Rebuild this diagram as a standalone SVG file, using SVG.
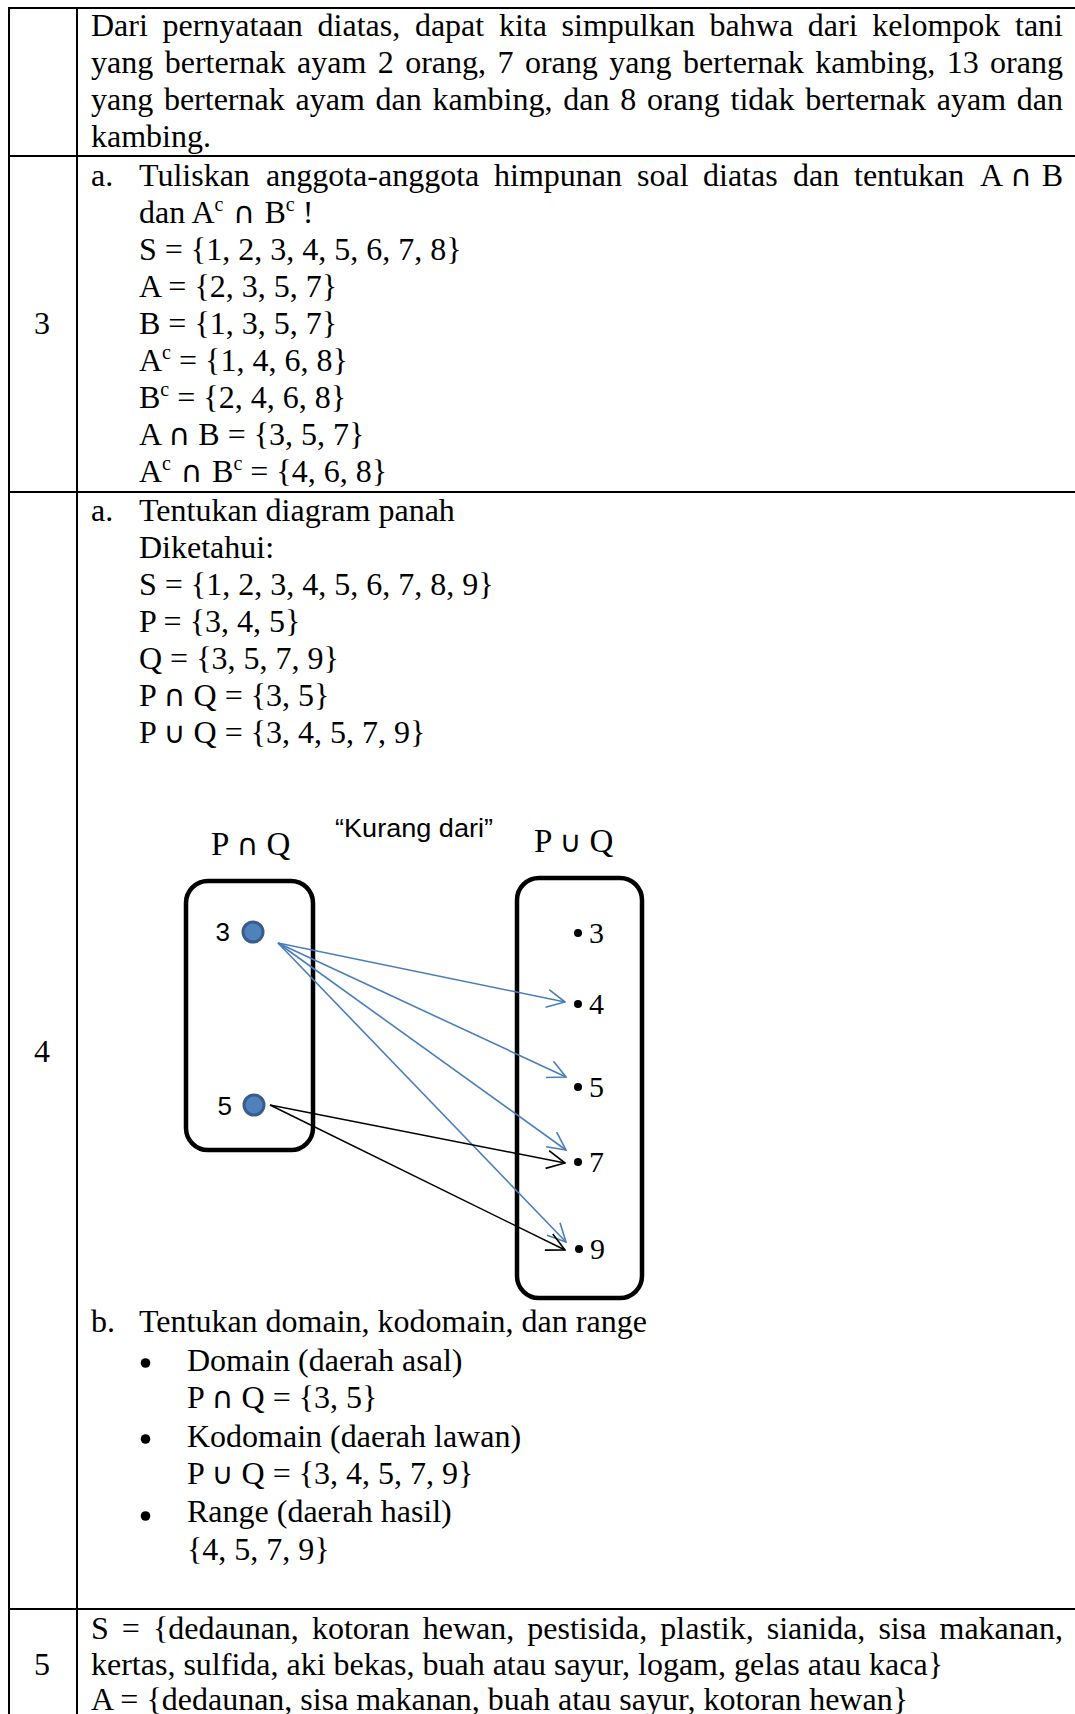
<svg xmlns="http://www.w3.org/2000/svg" width="1075" height="1714" viewBox="0 0 1075 1714">
<style>
.t{font-family:"Liberation Serif","Times New Roman",serif;font-size:32px;fill:#000}
.op{font-family:"DejaVu Sans",sans-serif;font-size:30px}
.sup{font-size:20px}
.num{font-family:"Liberation Serif","Times New Roman",serif;font-size:32px;text-anchor:middle}
.lbl{font-family:"Liberation Serif","Times New Roman",serif;font-size:33px}
.cal{font-family:"Liberation Sans",Arial,sans-serif;font-size:26px}
.rd{font-family:"Liberation Serif","Times New Roman",serif;font-size:30px}
.grid{stroke:#000;stroke-width:2;fill:none}
.box{fill:none;stroke:#000;stroke-width:4.5}
.pt{fill:#4f81bd;stroke:#385d8a;stroke-width:3}
.blue{stroke:#4a7ebb;stroke-width:1.6;fill:none;marker-end:url(#ab)}
.blk{stroke:#000;stroke-width:1.5;fill:none;marker-end:url(#ak)}
</style>
<defs>
<marker id="ab" viewBox="0 0 20 20" refX="19" refY="10" markerWidth="20" markerHeight="20" orient="auto" markerUnits="userSpaceOnUse"><path d="M1,1 L19,10 L1,19" fill="none" stroke="#4a7ebb" stroke-width="1.6"/></marker>
<marker id="ak" viewBox="0 0 20 20" refX="19" refY="10" markerWidth="20" markerHeight="20" orient="auto" markerUnits="userSpaceOnUse"><path d="M1,1 L19,10 L1,19" fill="none" stroke="#000" stroke-width="1.6"/></marker>
</defs>
<rect width="1075" height="1714" fill="#fff"/>
<g id="table">
<line class="grid" x1="8" y1="8" x2="1075" y2="8"/>
<line class="grid" x1="9" y1="7" x2="9" y2="1714"/>
<line class="grid" x1="77" y1="7" x2="77" y2="1714"/>
<line class="grid" x1="8" y1="156" x2="1075" y2="156"/>
<line class="grid" x1="8" y1="492" x2="1075" y2="492"/>
<line class="grid" x1="8" y1="1609" x2="1075" y2="1609"/>
</g>
<g id="row-numbers">
<text class="num" x="42" y="334">3</text>
<text class="num" x="42" y="1062">4</text>
<text class="num" x="42" y="1675">5</text>
</g>
<g id="row1">
<text class="t" y="36"><tspan x="91">Dari</tspan><tspan x="162.5">pernyataan</tspan><tspan x="317.6">diatas,</tspan><tspan x="414.9">dapat</tspan><tspan x="498.9">kita</tspan><tspan x="561.6">simpulkan</tspan><tspan x="709.6">bahwa</tspan><tspan x="807.8">dari</tspan><tspan x="872.3">kelompok</tspan><tspan x="1015">tani</tspan></text>
<text class="t" y="73"><tspan x="91">yang</tspan><tspan x="164.7">berternak</tspan><tspan x="297">ayam</tspan><tspan x="377.7">2</tspan><tspan x="405.2">orang,</tspan><tspan x="497.5">7</tspan><tspan x="524.9">orang</tspan><tspan x="609.3">yang</tspan><tspan x="682.9">berternak</tspan><tspan x="815.2">kambing,</tspan><tspan x="946.7">13</tspan><tspan x="990.1">orang</tspan></text>
<text class="t" y="110"><tspan x="91">yang</tspan><tspan x="163.9">berternak</tspan><tspan x="295.5">ayam</tspan><tspan x="375.5">dan</tspan><tspan x="432.5">kambing,</tspan><tspan x="563.2">dan</tspan><tspan x="620.2">8</tspan><tspan x="646.9">orang</tspan><tspan x="730.5">tidak</tspan><tspan x="805.2">berternak</tspan><tspan x="936.8">ayam</tspan><tspan x="1016.8">dan</tspan></text>
<text class="t" x="91" y="147">kambing.</text>
</g>
<g id="row3">
<text class="t" x="91" y="186">a.</text>
<text class="t" y="186"><tspan x="139">Tuliskan</tspan><tspan x="266">anggota-anggota</tspan><tspan x="494">himpunan</tspan><tspan x="637">soal</tspan><tspan x="703">diatas</tspan><tspan x="793">dan</tspan><tspan x="854">tentukan</tspan><tspan x="980">A</tspan><tspan class="op" x="1010">∩</tspan><tspan x="1041.7">B</tspan></text>
<text class="t" y="223"><tspan x="139">dan A</tspan><tspan class="sup" dy="-12">c</tspan><tspan class="op" dy="12"> ∩ </tspan><tspan>B</tspan><tspan class="sup" dy="-12">c</tspan><tspan dy="12"> !</tspan></text>
<text class="t" x="139" y="260">S = {1, 2, 3, 4, 5, 6, 7, 8}</text>
<text class="t" x="139" y="297">A = {2, 3, 5, 7}</text>
<text class="t" x="139" y="334">B = {1, 3, 5, 7}</text>
<text class="t" y="371"><tspan x="139">A</tspan><tspan class="sup" dy="-12">c</tspan><tspan dy="12"> = {1, 4, 6, 8}</tspan></text>
<text class="t" y="408"><tspan x="139">B</tspan><tspan class="sup" dy="-12">c</tspan><tspan dy="12"> = {2, 4, 6, 8}</tspan></text>
<text class="t" y="445"><tspan x="139">A </tspan><tspan class="op">∩</tspan><tspan> B = {3, 5, 7}</tspan></text>
<text class="t" y="482"><tspan x="139">A</tspan><tspan class="sup" dy="-12">c</tspan><tspan class="op" dy="12"> ∩ </tspan><tspan>B</tspan><tspan class="sup" dy="-12">c</tspan><tspan dy="12"> = {4, 6, 8}</tspan></text>
</g>
<g id="row4a">
<text class="t" x="91" y="521">a.</text>
<text class="t" x="139" y="521">Tentukan diagram panah</text>
<text class="t" x="139" y="558">Diketahui:</text>
<text class="t" x="139" y="595">S = {1, 2, 3, 4, 5, 6, 7, 8, 9}</text>
<text class="t" x="139" y="632">P = {3, 4, 5}</text>
<text class="t" x="139" y="669">Q = {3, 5, 7, 9}</text>
<text class="t" y="706"><tspan x="139">P </tspan><tspan class="op">∩</tspan><tspan> Q = {3, 5}</tspan></text>
<text class="t" y="743"><tspan x="139">P </tspan><tspan class="op">∪</tspan><tspan> Q = {3, 4, 5, 7, 9}</tspan></text>
</g>
<g id="diagram-labels">
<text class="lbl" x="211" y="855">P <tspan class="op" font-size="32px">∩</tspan> Q</text>
<text class="cal" x="335" y="837" textLength="158" lengthAdjust="spacingAndGlyphs">“Kurang dari”</text>
<text class="lbl" x="534" y="852">P <tspan class="op" font-size="32px">∪</tspan> Q</text>
</g>
<g id="node-domain">
<rect class="box" x="186" y="881" width="127" height="269" rx="22"/>
<circle class="pt" cx="253" cy="932" r="10"/>
<text class="cal" x="230" y="941" text-anchor="end">3</text>
<circle class="pt" cx="254" cy="1105" r="10"/>
<text class="cal" x="232" y="1115" text-anchor="end">5</text>
</g>
<g id="node-codomain">
<rect class="box" x="517" y="878" width="125" height="420" rx="22"/>
<circle cx="578" cy="933" r="4"/><text class="rd" x="589" y="943">3</text>
<circle cx="578" cy="1004" r="4"/><text class="rd" x="589" y="1014">4</text>
<circle cx="578" cy="1087" r="4"/><text class="rd" x="589" y="1097">5</text>
<circle cx="578" cy="1162" r="4"/><text class="rd" x="589" y="1172">7</text>
<circle cx="579" cy="1249" r="4"/><text class="rd" x="590" y="1259">9</text>
</g>
<g id="connectors">
<line class="blue" x1="278" y1="943" x2="565" y2="1002"/>
<line class="blue" x1="278" y1="943" x2="566" y2="1077"/>
<line class="blue" x1="278" y1="943" x2="566" y2="1150"/>
<line class="blue" x1="278" y1="943" x2="566" y2="1242"/>
<line class="blk" x1="270" y1="1105" x2="565" y2="1163"/>
<line class="blk" x1="270" y1="1105" x2="565" y2="1250"/>
</g>
<g id="row4b">
<text class="t" x="91" y="1332">b.</text>
<text class="t" x="139" y="1332">Tentukan domain, kodomain, dan range</text>
<circle cx="145.5" cy="1363" r="4.8"/>
<text class="t" x="187" y="1371">Domain (daerah asal)</text>
<text class="t" y="1408"><tspan x="187">P </tspan><tspan class="op">∩</tspan><tspan> Q = {3, 5}</tspan></text>
<circle cx="145.5" cy="1439" r="4.8"/>
<text class="t" x="187" y="1447">Kodomain (daerah lawan)</text>
<text class="t" y="1484"><tspan x="187">P </tspan><tspan class="op">∪</tspan><tspan> Q = {3, 4, 5, 7, 9}</tspan></text>
<circle cx="145.5" cy="1516" r="4.8"/>
<text class="t" x="187" y="1522">Range (daerah hasil)</text>
<text class="t" x="187" y="1560">{4, 5, 7, 9}</text>
</g>
<g id="row5">
<text class="t" y="1639"><tspan x="91">S</tspan><tspan x="121.8">=</tspan><tspan x="152.9">{dedaunan,</tspan><tspan x="311.9">kotoran</tspan><tspan x="422.7">hewan,</tspan><tspan x="527.3">pestisida,</tspan><tspan x="660.3">plastik,</tspan><tspan x="766.7">sianida,</tspan><tspan x="878.4">sisa</tspan><tspan x="939.5">makanan,</tspan></text>
<text class="t" x="91" y="1675">kertas, sulfida, aki bekas, buah atau sayur, logam, gelas atau kaca}</text>
<text class="t" x="91" y="1710">A = {dedaunan, sisa makanan, buah atau sayur, kotoran hewan}</text>
</g>
</svg>
